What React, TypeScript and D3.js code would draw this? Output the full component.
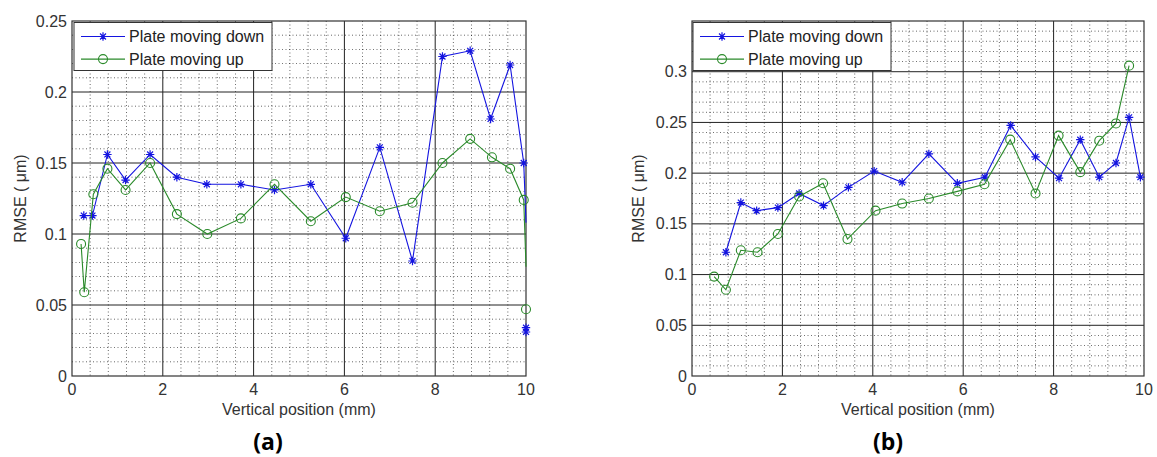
import * as d3 from 'd3';

// ---- panel (a) ----
const leftDownX = [0.26, 0.45, 0.78, 1.18, 1.72, 2.31, 2.97, 3.72, 4.46, 5.26, 6.03, 6.78, 7.5, 8.16, 8.77, 9.22, 9.65, 9.95];
const leftDownY = [0.113, 0.113, 0.156, 0.138, 0.156, 0.14, 0.135, 0.135, 0.131, 0.135, 0.097, 0.161, 0.081, 0.225, 0.229, 0.181, 0.219, 0.15];
const leftDownTail = [0.108]; // line keeps going at x=10, no marker
const leftDownStray = [0.034, 0.031]; // lone markers at x=10

const leftUpX = [0.2, 0.27, 0.47, 0.78, 1.18, 1.72, 2.31, 2.98, 3.72, 4.46, 5.26, 6.03, 6.78, 7.5, 8.16, 8.77, 9.25, 9.65, 9.95];
const leftUpY = [0.093, 0.059, 0.128, 0.146, 0.131, 0.15, 0.114, 0.1, 0.111, 0.135, 0.109, 0.126, 0.116, 0.122, 0.15, 0.167, 0.154, 0.146, 0.124];
const leftUpTail = [0.077];
const leftUpStray = [0.047];

// ---- panel (b) ----
const rightDownX = [0.75, 1.08, 1.43, 1.9, 2.37, 2.91, 3.46, 4.03, 4.65, 5.24, 5.87, 6.48, 7.05, 7.6, 8.12, 8.59, 9.01, 9.38, 9.67, 9.92];
const rightDownY = [0.122, 0.171, 0.163, 0.166, 0.18, 0.168, 0.186, 0.202, 0.191, 0.219, 0.19, 0.196, 0.247, 0.216, 0.195, 0.233, 0.196, 0.21, 0.255, 0.196];

const rightUpX = [0.49, 0.75, 1.08, 1.45, 1.9, 2.37, 2.9, 3.44, 4.06, 4.65, 5.24, 5.87, 6.47, 7.04, 7.6, 8.11, 8.59, 9.01, 9.38, 9.67];
const rightUpY = [0.098, 0.085, 0.124, 0.122, 0.14, 0.177, 0.19, 0.135, 0.163, 0.17, 0.175, 0.182, 0.189, 0.233, 0.18, 0.237, 0.201, 0.232, 0.249, 0.306];

const xTicks = [0, 2, 4, 6, 8, 10];
const leftYTicks = [0, 0.05, 0.1, 0.15, 0.2, 0.25];
const rightYTicks = [0, 0.05, 0.1, 0.15, 0.2, 0.25, 0.3];
const seriesNames = ['Plate moving down', 'Plate moving up'];

const BLUE = '#1414e0';
const GREEN = '#2a8a2a';
const FONT = 'Arial, "Liberation Sans", sans-serif';

function Star({ x, y, color }) {
  const r = 4.2;
  const d = r * Math.SQRT1_2;
  return (
    <path
      d={`M${x - r},${y}H${x + r}M${x},${y - r}V${y + r}M${x - d},${y - d}L${x + d},${y + d}M${x - d},${y + d}L${x + d},${y - d}`}
      stroke={color}
      strokeWidth={1.2}
      fill='none'
    />
  );
}

function Circle({ x, y, color }) {
  return <circle cx={x} cy={y} r={4.5} fill='none' stroke={color} strokeWidth={1.1} />;
}

function Panel({ x0, x1, y0, y1, yMax, yTicks, down, up, legend, yLabelX, caption, captionX }) {
  const x = d3.scaleLinear().domain([0, 10]).range([x0, x1]);
  const y = d3.scaleLinear().domain([0, yMax]).range([y1, y0]);

  const minorX = d3.range(0, 26).map((i) => i * 0.4).filter((v) => i5(v));
  function i5(v) {
    return Math.abs(v / 2 - Math.round(v / 2)) > 1e-6;
  }
  const nY = Math.round(yMax / 0.01);
  const minorY = d3.range(1, nY).filter((i) => i % 5 !== 0).map((i) => i * 0.01);
  const majorY = d3.range(1, Math.round(yMax / 0.05)).map((i) => i * 0.05);

  const line = d3
    .line()
    .x((d) => x(d[0]))
    .y((d) => y(d[1]));

  const renderSeries = (s, Marker, color) => {
    const pts = s.xs.map((v, i) => [v, s.ys[i]]);
    const tail = (s.tail || []).map((v) => [10, v]);
    return (
      <g>
        <path d={line([...pts, ...tail])} fill='none' stroke={color} strokeWidth={1.1} />
        {pts.map((p, i) => (
          <Marker key={i} x={x(p[0])} y={y(p[1])} color={color} />
        ))}
        {(s.stray || []).map((v, i) => (
          <Marker key={'s' + i} x={x(10)} y={y(v)} color={color} />
        ))}
      </g>
    );
  };

  return (
    <g fontFamily={FONT}>
      {/* minor grid */}
      {minorX.map((v, i) => (
        <line key={'mx' + i} x1={x(v)} x2={x(v)} y1={y0} y2={y1} stroke='#000' strokeWidth={0.8} strokeDasharray='1,2.5' opacity={0.75} />
      ))}
      {minorY.map((v, i) => (
        <line key={'my' + i} x1={x0} x2={x1} y1={y(v)} y2={y(v)} stroke='#000' strokeWidth={0.8} strokeDasharray='1,2.5' opacity={0.75} />
      ))}
      {/* major grid */}
      {xTicks.slice(1, -1).map((v) => (
        <line key={'gx' + v} x1={x(v)} x2={x(v)} y1={y0} y2={y1} stroke='#222' strokeWidth={1} />
      ))}
      {majorY.map((v, i) => (
        <line key={'gy' + i} x1={x0} x2={x1} y1={y(v)} y2={y(v)} stroke='#222' strokeWidth={1} />
      ))}
      <rect x={x0} y={y0} width={x1 - x0} height={y1 - y0} fill='none' stroke='#333' strokeWidth={1.2} />

      {/* tick labels */}
      {xTicks.map((v) => (
        <text key={'tx' + v} x={x(v)} y={y1 + 19} textAnchor='middle' fontSize={16} fill='#333'>
          {v}
        </text>
      ))}
      {yTicks.map((v) => (
        <text key={'ty' + v} x={x0 - 5} y={y(v)} dy='0.35em' textAnchor='end' fontSize={16} fill='#333'>
          {d3.format('~g')(v)}
        </text>
      ))}

      <text x={(x0 + x1) / 2} y={y1 + 39} textAnchor='middle' fontSize={16} fill='#333'>
        Vertical position (mm)
      </text>
      <text transform={`translate(${yLabelX},${(y0 + y1) / 2}) rotate(-90)`} textAnchor='middle' fontSize={16} fill='#333'>
        RMSE ( μm)
      </text>

      {renderSeries(down, Star, BLUE)}
      {renderSeries(up, Circle, GREEN)}

      {/* legend */}
      <rect x={legend.x} y={legend.y} width={legend.w} height={legend.h} fill='#fff' stroke='#333' strokeWidth={1} />
      {seriesNames.map((name, i) => {
        const ry = legend.y + 14 + i * 22.6;
        const color = i === 0 ? BLUE : GREEN;
        const Marker = i === 0 ? Star : Circle;
        return (
          <g key={name}>
            <line x1={legend.x + 7} x2={legend.x + 51} y1={ry} y2={ry} stroke={color} strokeWidth={1.1} />
            <Marker x={legend.x + 29} y={ry} color={color} />
            <text x={legend.x + 55} y={ry} dy='0.35em' fontSize={16} fill='#222'>
              {name}
            </text>
          </g>
        );
      })}

      <text x={captionX} y={450} textAnchor='middle' fontSize={23} fontWeight='bold' fill='#000' fontFamily='"Open Sans", Arial, sans-serif'>
        {caption}
      </text>
    </g>
  );
}

export default function App() {
  return (
    <div style={{ position: 'absolute', left: 0, top: 0 }}>
      <svg width={1157} height={457} style={{ display: 'block', background: '#fff' }}>
        <Panel
          x0={72}
          x1={526}
          y0={21}
          y1={376}
          yMax={0.25}
          yTicks={leftYTicks}
          down={{ xs: leftDownX, ys: leftDownY, tail: leftDownTail, stray: leftDownStray }}
          up={{ xs: leftUpX, ys: leftUpY, tail: leftUpTail, stray: leftUpStray }}
          legend={{ x: 74, y: 22.5, w: 198, h: 48 }}
          yLabelX={26}
          caption='(a)'
          captionX={268}
        />
        <Panel
          x0={692}
          x1={1144}
          y0={21}
          y1={376}
          yMax={0.35}
          yTicks={rightYTicks}
          down={{ xs: rightDownX, ys: rightDownY }}
          up={{ xs: rightUpX, ys: rightUpY }}
          legend={{ x: 693, y: 22.5, w: 198, h: 48 }}
          yLabelX={644}
          caption='(b)'
          captionX={888}
        />
      </svg>
    </div>
  );
}
